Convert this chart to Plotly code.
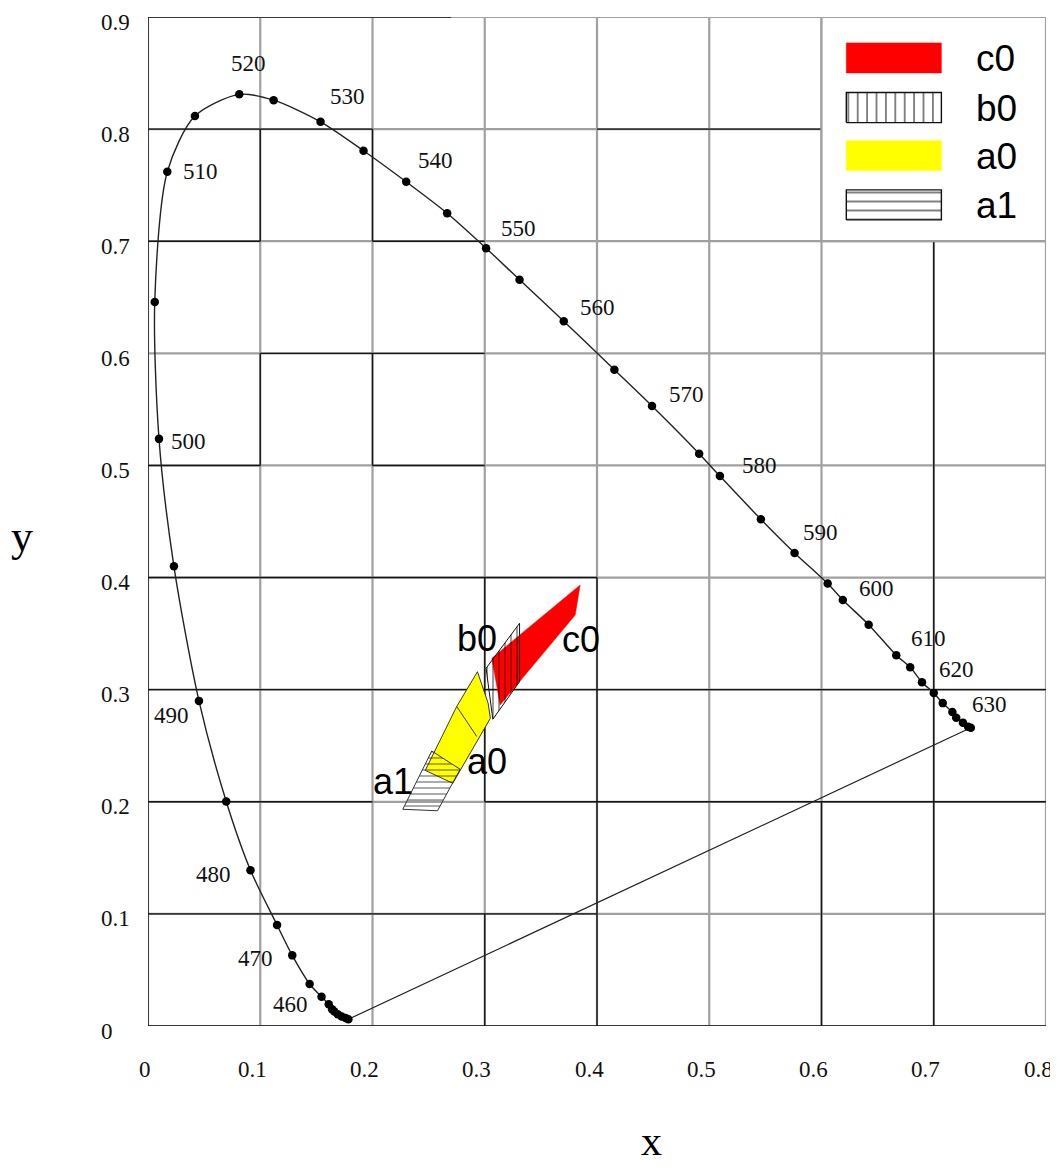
import plotly.graph_objects as go

# ---------------- data ----------------
# spectral locus dots (5 nm steps), from violet end to red end
locus_x = [0.1785, 0.1760, 0.1725, 0.1690, 0.1660, 0.1640, 0.1610, 0.1546, 0.1440, 0.1285,
           0.1150, 0.0913, 0.0697, 0.0454, 0.0231, 0.0098, 0.0060, 0.0172, 0.0418, 0.0813,
           0.1119, 0.1537, 0.1920, 0.2300, 0.2665, 0.3012, 0.3310, 0.3704, 0.4155, 0.4490,
           0.4910, 0.5095, 0.5460, 0.5760, 0.6055, 0.6190, 0.6420, 0.6666, 0.6790, 0.6895,
           0.7000, 0.7080, 0.7166, 0.7200, 0.7260, 0.7306, 0.7330]
locus_y = [0.0060, 0.0072, 0.0085, 0.0105, 0.0130, 0.0150, 0.0195, 0.0260, 0.0375, 0.0630,
           0.0900, 0.1390, 0.2003, 0.2900, 0.4100, 0.5237, 0.6457, 0.7620, 0.8116, 0.8310,
           0.8258, 0.8065, 0.7807, 0.7530, 0.7250, 0.6938, 0.6656, 0.6287, 0.5853, 0.5530,
           0.5105, 0.4905, 0.4520, 0.4220, 0.3946, 0.3800, 0.3580, 0.3307, 0.3200, 0.3067,
           0.2970, 0.2880, 0.2800, 0.2750, 0.2706, 0.2670, 0.2660]

# wavelength labels
wl_text = ["460", "470", "480", "490", "500", "510", "520", "530", "540", "550",
           "560", "570", "580", "590", "600", "610", "620", "630"]
wl_lx = [0.1269, 0.0960, 0.0582, 0.0205, 0.0362, 0.0470, 0.0891, 0.1774, 0.2564, 0.3300,
         0.4000, 0.4800, 0.5449, 0.5992, 0.6488, 0.6949, 0.7207, 0.7498]
wl_ly = [0.0190, 0.0604, 0.1351, 0.2766, 0.5217, 0.7620, 0.8585, 0.8288, 0.7724, 0.7110,
         0.6412, 0.5633, 0.5000, 0.4400, 0.3898, 0.3457, 0.3179, 0.2866]

# regions
c0_x = [0.3063, 0.3850, 0.3806, 0.3137]
c0_y = [0.3280, 0.3934, 0.3666, 0.2864]
a0_x = [0.2935, 0.3030, 0.3050, 0.2715, 0.2470, 0.2750]
a0_y = [0.3160, 0.2880, 0.2745, 0.2165, 0.2280, 0.2850]
a0_div_x = [0.2751, 0.2929]
a0_div_y = [0.2849, 0.2582]
b0_x = [0.3012, 0.3310, 0.3310, 0.3072]
b0_y = [0.3191, 0.3592, 0.3072, 0.2736]
a1_x = [0.2528, 0.2781, 0.2579, 0.2270]
a1_y = [0.2453, 0.2290, 0.1920, 0.1933]

region_names = ["c0", "b0", "a0", "a1"]
region_lx = [0.3860, 0.2928, 0.3020, 0.2184]
region_ly = [0.3450, 0.3460, 0.2355, 0.2177]

# axis ticks
x_ticks = [0, 0.1, 0.2, 0.3, 0.4, 0.5, 0.6, 0.7, 0.8]
x_tick_text = ["0", "0.1", "0.2", "0.3", "0.4", "0.5", "0.6", "0.7", "0.8"]
y_ticks = [0, 0.1, 0.2, 0.3, 0.4, 0.5, 0.6, 0.7, 0.8, 0.9]
y_tick_text = ["0", "0.1", "0.2", "0.3", "0.4", "0.5", "0.6", "0.7", "0.8", "0.9"]

# ---------------- style ----------------
GRAY = "#a0a0a0"
BLACK = "#151515"
SERIF = "Liberation Serif, Times New Roman, serif"
SANS = "Liberation Sans, Arial, sans-serif"

# figure geometry (page body adds an 8 px offset)
W, H = 1050, 1162
ML, MR, MT, MB = 140, 12, 9, 144
PW = W - ML - MR
PH = H - MT - MB

# black grid segments (y, x0, x1) and (x, y0, y1)
h_black = [(0.9, 0, 0.27), (0.8, 0, 0.2), (0.8, 0.4, 0.6), (0.7, 0, 0.1), (0.7, 0.2, 0.3),
           (0.6, 0.1, 0.3), (0.5, 0, 0.1), (0.5, 0.2, 0.3), (0.4, 0, 0.4), (0.3, 0, 0.8),
           (0.2, 0, 0.2), (0.2, 0.3, 0.8), (0.1, 0, 0.4), (0.0, 0, 0.8)]
v_black = [(0.0, 0, 0.9), (0.1, 0.7, 0.8), (0.1, 0.5, 0.6), (0.2, 0.7, 0.8), (0.2, 0.5, 0.6),
           (0.3, 0.2, 0.4), (0.3, 0, 0.1), (0.4, 0, 0.4), (0.6, 0, 0.2), (0.7, 0, 0.7)]

fig = go.Figure()

shapes = []
for v in x_ticks:
    shapes.append(dict(type="line", xref="x", yref="y", x0=v, x1=v, y0=0, y1=0.9,
                       line=dict(color=GRAY, width=2.2), layer="below"))
for v in y_ticks:
    shapes.append(dict(type="line", xref="x", yref="y", x0=0, x1=0.8, y0=v, y1=v,
                       line=dict(color=GRAY, width=2.2), layer="below"))
for (yy, a, b) in h_black:
    shapes.append(dict(type="line", xref="x", yref="y", x0=a, x1=b, y0=yy, y1=yy,
                       line=dict(color=BLACK, width=1.4), layer="below"))
for (xx, a, b) in v_black:
    shapes.append(dict(type="line", xref="x", yref="y", x0=xx, x1=xx, y0=a, y1=b,
                       line=dict(color=BLACK, width=1.4), layer="below"))
# legend box
shapes.append(dict(type="rect", xref="x", yref="y", x0=0.6, x1=0.8, y0=0.7, y1=0.9,
                   fillcolor="white", line=dict(color=GRAY, width=2.2), layer="below"))

# ---------------- regions ----------------
def closed(a):
    return list(a) + [a[0]]

fig.add_trace(go.Scatter(x=closed(c0_x), y=closed(c0_y), mode="lines", fill="toself",
                         fillcolor="#ff0000", line=dict(color="#ff0000", width=0.5),
                         hoverinfo="skip", showlegend=False))
fig.add_trace(go.Scatter(x=closed(a0_x), y=closed(a0_y), mode="lines", fill="toself",
                         fillcolor="#ffff00", line=dict(color="#222", width=0.9),
                         hoverinfo="skip", showlegend=False))
fig.add_trace(go.Scatter(x=a0_div_x, y=a0_div_y, mode="lines",
                         line=dict(color="#222", width=0.9), hoverinfo="skip", showlegend=False))
fig.add_trace(go.Scatter(x=closed(b0_x), y=closed(b0_y), mode="lines", fill="toself",
                         fillcolor="rgba(0,0,0,0)",
                         fillpattern=dict(shape="|", size=6, solidity=0.25, fgcolor="#000",
                                          bgcolor="rgba(0,0,0,0)"),
                         line=dict(color="#111", width=1), hoverinfo="skip", showlegend=False))
fig.add_trace(go.Scatter(x=closed(a1_x), y=closed(a1_y), mode="lines", fill="toself",
                         fillcolor="rgba(0,0,0,0)",
                         fillpattern=dict(shape="-", size=6, solidity=0.25, fgcolor="#222",
                                          bgcolor="rgba(0,0,0,0)"),
                         line=dict(color="#333", width=1), hoverinfo="skip", showlegend=False))

# ---------------- spectral locus ----------------
fig.add_trace(go.Scatter(x=[locus_x[-1], locus_x[0]], y=[locus_y[-1], locus_y[0]], mode="lines",
                         line=dict(color="#222", width=1.2), hoverinfo="skip", showlegend=False))
fig.add_trace(go.Scatter(x=locus_x, y=locus_y, mode="lines+markers",
                         line=dict(color="#222", width=1.4, shape="spline", smoothing=0.8),
                         marker=dict(color="black", size=8.5),
                         hoverinfo="skip", showlegend=False))

# ---------------- legend (drawn inside the box) ----------------
sw_x0, sw_x1 = 0.6221, 0.7068
sw_y0 = [0.8501, 0.8058, 0.7630, 0.7190]
sw_y1 = [0.8769, 0.8326, 0.7897, 0.7458]
sw_styles = [
    dict(fillcolor="#ff0000", line=dict(color="#ff0000", width=0.5)),
    dict(fillcolor="white", fillpattern=dict(shape="|", size=9.4, solidity=0.2, fgcolor="#000",
                                             bgcolor="white"),
         line=dict(color="#111", width=1.4)),
    dict(fillcolor="#ffff00", line=dict(color="#ffff00", width=0.5)),
    dict(fillcolor="white", fillpattern=dict(shape="-", size=9, solidity=0.22, fgcolor="#000",
                                             bgcolor="white"),
         line=dict(color="#111", width=1.4)),
]
for i, st in enumerate(sw_styles):
    fig.add_trace(go.Scatter(x=[sw_x0, sw_x1, sw_x1, sw_x0, sw_x0],
                             y=[sw_y0[i], sw_y0[i], sw_y1[i], sw_y1[i], sw_y0[i]],
                             mode="lines", fill="toself", hoverinfo="skip", showlegend=False, **st))

annotations = []
for i, name in enumerate(region_names):
    annotations.append(dict(x=0.7362, y=(sw_y0[i] + sw_y1[i]) / 2, xref="x", yref="y",
                            text=name, showarrow=False, xanchor="left", yanchor="middle",
                            yshift=-1, font=dict(family=SANS, size=37, color="black")))
for t, lx, ly in zip(region_names, region_lx, region_ly):
    annotations.append(dict(x=lx, y=ly, xref="x", yref="y", text=t, showarrow=False,
                            xanchor="center", yanchor="middle",
                            font=dict(family=SANS, size=36, color="black")))
for t, lx, ly in zip(wl_text, wl_lx, wl_ly):
    annotations.append(dict(x=lx, y=ly, xref="x", yref="y", text=t, showarrow=False,
                            xanchor="center", yanchor="middle",
                            font=dict(family=SERIF, size=23, color="#111")))
for v, t in zip(x_ticks, x_tick_text):
    annotations.append(dict(x=v, y=0, xref="x", yref="y", text=t, showarrow=False,
                            xanchor="center", yanchor="middle", yshift=-43,
                            xshift=(-3.5 if t == "0" else -8),
                            font=dict(family=SERIF, size=23, color="#111")))
for v, t in zip(y_ticks, y_tick_text):
    annotations.append(dict(x=(99 - 148) / PW, y=v, xref="paper", yref="y", text=t,
                            showarrow=False, xanchor="left", yanchor="middle", yshift=-5,
                            font=dict(family=SERIF, size=23, color="#111")))
annotations.append(dict(x=0.4483, y=(1026 - 1166) / PH, xref="x", yref="paper", text="x",
                        showarrow=False, xanchor="center", yanchor="bottom",
                        font=dict(family=SERIF, size=42, color="black")))
annotations.append(dict(x=(22 - 148) / PW, y=0.4362, xref="paper", yref="y", text="y",
                        showarrow=False, xanchor="center", yanchor="middle",
                        font=dict(family=SERIF, size=44, color="black")))

fig.update_layout(
    width=W, height=H,
    margin=dict(l=ML, r=MR, t=MT, b=MB),
    paper_bgcolor="white", plot_bgcolor="white",
    shapes=shapes, annotations=annotations,
    showlegend=False,
    xaxis=dict(range=[0, 0.8], showgrid=False, zeroline=False, showline=False,
               showticklabels=False, ticks="", fixedrange=True),
    yaxis=dict(range=[0, 0.9], showgrid=False, zeroline=False, showline=False,
               showticklabels=False, ticks="", fixedrange=True),
)

fig.write_html("out.html")
